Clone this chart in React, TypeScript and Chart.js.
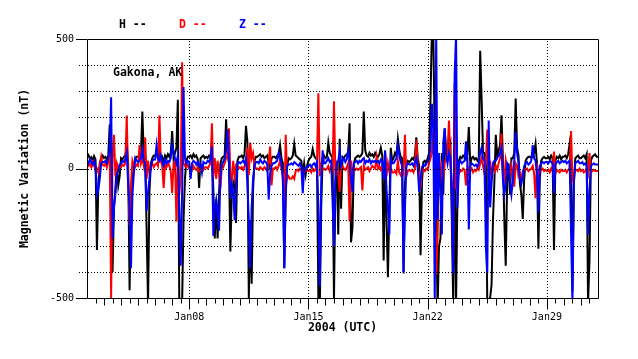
import React, { useEffect, useRef } from 'react';
import { Chart, registerables } from 'chart.js';

Chart.register(...registerables);

const FONT = '"DejaVu Sans Mono", "Liberation Mono", monospace';

// sampling: 12 samples per day (every 2 hours), starting 2004-01-02 00:00 UTC
const SAMPLES_PER_DAY = 12;
const DAYS = 30;

const tickDays = [6, 13, 20, 27];
const tickLabels = ['Jan08', 'Jan15', 'Jan22', 'Jan29'];
const yTickValues = [-500, 0, 500];
const yGridValues = [-400, -300, -200, -100, 0, 100, 200, 300, 400];

const seriesNames = ['H', 'D', 'Z'];
const seriesColors = ['#000000', '#ff0000', '#0000ff'];
const stationLabel = 'Gakona, AK';
const xTitle = '2004 (UTC)';
const yTitle = 'Magnetic Variation (nT)';

const hValues = [
  45, 52, 38, 44, 30, 48, 35, -315, -60, 20, 40, 50,
  40, 45, 35, 50, 170, -60, -400, -150, -80, 20, -65, -30,
  40, 35, 45, 50, 90, 20, -470, -150, -60, 10, 40, 45,
  45, 40, 60, 220, 50, 30, -230, -520, -90, 20, 40, 50,
  50, 55, 40, 65, 35, 45, 25, 50, 40, 55, 45, 60,
  145, 40, 60, 80, 265, -500, -540, -520, -200, -40, 30, 45,
  45, 50, 40, 55, 45, 50, 35, -75, 40, 45, 50, 40,
  45, 40, 50, 45, 60, -80, -270, -120, -270, -100, 20, 40,
  45, 50, 190, 60, 20, -320, -100, -60, -40, -210, 30, 45,
  45, 50, 40, 55, 165, 100, -500, -200, -445, -80, 30, 45,
  45, 50, 55, 45, 50, 40, 45, 50, 20, 0, 40, 45,
  45, 40, 50, 55, 90, 40, 20, -385, -100, 10, 40, 35,
  40, 50, 95, 50, 45, 40, 35, 30, -20, 20, -25, 10,
  30, 40, 45, 75, 50, 40, 35, -500, -540, -150, 40, 50,
  40, 45, 100, 60, 50, 40, -500, -60, 30, -255, 115, -155,
  45, 40, 50, 55, 60, 175, -285, -230, 20, 40, 45, 50,
  45, 50, 60, 220, 70, 50, 45, 60, 50, 55, 45, 60,
  50, 45, 55, 80, 50, -355, 60, -200, -420, -150, 80, 30,
  40, 60, 50, 115, 70, 45, 40, -400, -60, 20, 30, 25,
  30, 40, 35, 50, 120, 40, 10, -335, -50, 25, 30, 20,
  40, 60, 270, 540, 520, 100, -200, -540, -300, -270, 60, -100,
  155, 60, 40, 80, 100, -200, -520, 40, -520, -100, 30, 45,
  40, 50, 45, 35, 55, 160, 20, 40, 45, 35, 40, 30,
  40, 455, 270, 60, 60, 20, -520, -540, -500, -450, -200, -50,
  130, 50, 70, 90, 205, 40, -200, -375, -50, 20, -100, 40,
  40, 60, 270, 80, 50, -60, -100, -195, -40, 30, 40, 45,
  45, 40, 50, 60, 95, 20, -310, -40, 30, 40, 45, 40,
  40, 45, 35, 50, 40, -315, 30, 45, 40, 50, 35, 45,
  45, 50, 40, 55, 95, 30, -475, -60, 40, 45, 50, 40,
  40, 45, 50, 40, 55, -520, -355, 30, 45, 50, 55, 45,
  45,
];

const dValues = [
  15, 10, 20, 5, 25, 10, -5, 0, -15, 10, 45, 15,
  10, 20, 5, 30, 60, -500, 40, 130, -30, 20, 0, 10,
  5, 15, 10, 20, 205, -40, -220, -60, 30, 10, 5, 15,
  10, 90, 20, 40, 10, 120, -40, 30, -20, 10, 20, 5,
  15, 20, 10, 205, 30, 10, -75, 15, 5, 20, 10, -10,
  -95, 20, 30, -205, 40, -100, -30, 410, 20, 10, 5, 15,
  0, 5, -5, 10, 0, -5, 5, -10, 0, 10, -5, 5,
  5, 0, 10, 20, 175, -30, 40, -40, 30, -20, -75, 10,
  5, 20, 40, 50, 155, -20, -50, 30, -30, 10, 0, 5,
  0, 5, -5, 10, 20, 80, -25, 100, 40, 60, 10, 0,
  0, -5, 5, 0, -5, 5, 0, -10, 30, 85, -65, 0,
  0, 5, -5, 10, 30, 0, -20, -165, 130, -40, -30, -40,
  -40, -30, -40, -10, -5, -10, 0, -5, -10, -15, -10, -5,
  -10, -5, -15, 0, -10, -5, 20, 290, -30, 10, -5, 0,
  -5, 0, 10, -10, 5, -5, 260, -30, 10, -20, -90, 10,
  10, 0, -5, 5, 20, -205, 30, -20, 5, -5, 0, -5,
  0, 5, -85, 10, -5, 0, 5, -10, 0, 10, 5, 0,
  45, 0, 10, -5, 5, -20, 65, -30, 20, -10, 5, -15,
  -15, -10, -20, 30, -15, -25, -10, -20, 130, -30, -10, -5,
  -10, -5, -15, 0, 110, 10, -20, -75, 0, -5, -10, 0,
  -5, 20, 40, 60, 150, -100, -410, -270, 20, -60, 30, -40,
  20, 40, 60, 185, 30, -60, -355, 330, -80, 20, -20, -10,
  -10, 0, -5, -65, 10, -20, -10, 0, -15, -5, -10, 0,
  -5, 20, 40, 10, -20, 30, 150, -60, 30, -30, 10, -10,
  10, -5, 20, 40, 135, -20, -40, 30, -10, 0, -30, 10,
  -20, -70, 20, 10, -30, -20, -40, -10, 0, -5, 0, -10,
  -5, 0, 10, -20, -115, 20, -30, -10, -5, 0, -10, -5,
  -10, -5, -15, 0, -10, 65, -20, -5, -10, -15, -5, -10,
  -10, -5, -15, -5, 0, 145, -40, -20, -10, -5, -10, 0,
  -10, -5, -15, -10, 0, -20, 60, -15, -10, -5, -10, -10,
  -10,
];

const zValues = [
  30, 20, 35, 25, 15, 30, 10, -100, -80, -40, 20, 25,
  25, 30, 20, 40, 80, 275, -270, -150, -100, -20, -10, 15,
  20, 30, 25, 35, 60, -60, -150, -385, -100, -20, 40, 30,
  25, 30, 40, 75, 30, 20, -165, -90, -40, 10, 30, 35,
  35, 90, 40, 30, 50, 25, 10, 35, 20, 30, 25, 40,
  90, 60, 40, 20, 50, -150, -375, -100, 315, 40, 20, 30,
  25, -40, 20, 30, 25, 15, 25, 10, 20, -15, 25, 20,
  20, 30, 25, 40, 85, -260, -150, -120, -180, -240, -30, 15,
  25, 40, 70, 150, 40, -115, -60, -90, -200, -80, 20, 25,
  20, 25, 30, 20, 40, -60, -200, -385, -150, -40, 10, 25,
  25, 20, 35, 25, 20, 30, 25, 15, -120, -20, 10, 20,
  20, 25, 30, 60, 40, 20, -50, -385, -80, 10, 15, 15,
  20, 15, 25, 20, 15, 10, 20, 5, -95, 0, -5, 10,
  10, 15, 5, 15, 20, 10, 25, -150, -455, -50, 70, 20,
  20, 30, 40, 25, 30, -125, -300, -40, 20, 30, 65, 10,
  30, 40, 25, 35, 70, 30, -40, -90, 20, 25, 30, 20,
  30, 25, 35, 40, 20, 30, 25, 35, 20, 30, 25, 30,
  25, 30, 20, 35, 30, -40, 70, -80, -150, -255, 40, 20,
  20, 30, 40, 90, 50, 25, 10, -405, -155, 10, 20, 15,
  15, 20, 10, 25, 40, 0, -90, -40, 5, 15, 10, 20,
  25, 40, 80, 250, 150, -520, 540, -200, 60, -80, -255, 100,
  155, 50, 20, 60, 40, -100, -405, 360, 520, -150, 20, 30,
  20, 25, 30, 105, 40, -235, 10, 20, 15, 10, 15, 5,
  20, 60, 80, 40, 30, -300, -405, 185, -150, -60, 20, 30,
  30, 40, 50, 60, 80, -40, -100, -60, 20, 10, -50, -100,
  -50, 30, 140, 60, 20, -40, -60, -30, 10, 20, 25, 15,
  20, 30, 90, 40, 30, -20, -170, 10, 20, 25, 20, 25,
  25, 20, 30, 25, 20, -95, 15, 25, 30, 20, 25, 30,
  25, 30, 20, 25, 30, -245, -520, -50, 20, 25, 30, 20,
  20, 25, 15, 20, 10, -255, -80, 10, 15, 20, 15, 15,
  15,
];

const seriesValues = [hValues, dValues, zValues];

const toPoints = (vals: number[]) => vals.map((v, i) => ({ x: i / SAMPLES_PER_DAY, y: v }));

const decorPlugin = {
  id: 'decor',
  afterDatasetsDraw(chart: any) {
    const { ctx, chartArea: a, scales } = chart;
    const x = scales.x;
    const y = scales.y;
    ctx.save();
    ctx.strokeStyle = '#000000';
    ctx.lineWidth = 1;
    // dotted grid
    ctx.setLineDash([1, 2]);
    yGridValues.forEach((v) => {
      const py = Math.round(y.getPixelForValue(v)) + 0.5;
      ctx.beginPath();
      ctx.moveTo(a.left - 8, py);
      ctx.lineTo(a.right, py);
      ctx.stroke();
    });
    tickDays.forEach((d) => {
      const px = Math.round(x.getPixelForValue(d)) + 0.5;
      ctx.beginPath();
      ctx.moveTo(px, a.top + 2);
      ctx.lineTo(px, a.bottom);
      ctx.stroke();
    });
    ctx.setLineDash([]);
    // frame
    const l = Math.round(a.left) + 0.5;
    const t = Math.round(a.top) + 0.5;
    const r = Math.round(a.right) + 0.5;
    const b = Math.round(a.bottom) + 0.5;
    ctx.beginPath();
    ctx.moveTo(l, t);
    ctx.lineTo(r, t);
    ctx.lineTo(r, b);
    ctx.lineTo(l, b);
    ctx.closePath();
    ctx.stroke();
    // y major ticks
    yTickValues.forEach((v) => {
      const py = Math.round(y.getPixelForValue(v)) + 0.5;
      ctx.beginPath();
      ctx.moveTo(a.left - 11, py);
      ctx.lineTo(a.left, py);
      ctx.stroke();
    });
    // x ticks: every half day, longer each day, longest weekly
    for (let k = 1; k < DAYS * 2; k++) {
      const d = k / 2;
      const px = Math.round(x.getPixelForValue(d)) + 0.5;
      let len = k % 2 === 1 ? 5 : 7;
      if (tickDays.includes(d)) len = 11;
      ctx.beginPath();
      ctx.moveTo(px, b);
      ctx.lineTo(px, b + len);
      ctx.stroke();
    }
    // texts
    ctx.font = `bold 11.5px ${FONT}`;
    ctx.textBaseline = 'middle';
    ctx.textAlign = 'left';
    seriesNames.forEach((n, i) => {
      ctx.fillStyle = seriesColors[i];
      ctx.fillText(`${n} --`, 119 + i * 60, 25);
    });
    ctx.fillStyle = '#000000';
    ctx.textBaseline = 'alphabetic';
    ctx.fillText(stationLabel, a.left + 26, a.top + 37);
    ctx.textAlign = 'center';
    ctx.textBaseline = 'middle';
    ctx.fillText(xTitle, (a.left + a.right) / 2, 328);
    ctx.translate(25, (a.top + a.bottom) / 2);
    ctx.rotate(-Math.PI / 2);
    ctx.fillText(yTitle, 0, 0);
    ctx.restore();
  },
};

export default function App() {
  const ref = useRef<HTMLCanvasElement>(null);
  useEffect(() => {
    document.body.style.margin = '0';
    const canvas = ref.current;
    if (!canvas) return;
    const chart = new Chart(canvas, {
      type: 'line',
      data: {
        datasets: seriesNames.map((n, i) => ({
          label: n,
          data: toPoints(seriesValues[i]),
          borderColor: seriesColors[i],
          backgroundColor: seriesColors[i],
          borderWidth: 2,
          pointRadius: 0,
          tension: 0,
          fill: false,
          order: 3 - i,
        })),
      },
      options: {
        responsive: false,
        maintainAspectRatio: false,
        animation: false,
        events: [],
        layout: { padding: { left: 0, right: 40, top: 39, bottom: 0 } },
        plugins: {
          legend: { display: false },
          tooltip: { enabled: false },
          title: { display: false },
        },
        scales: {
          x: {
            type: 'linear',
            min: 0,
            max: DAYS,
            grid: { display: false, drawTicks: false },
            border: { display: false },
            afterFit: (s: any) => {
              s.height = 61;
            },
            afterBuildTicks: (s: any) => {
              s.ticks = tickDays.map((v) => ({ value: v }));
            },
            ticks: {
              autoSkip: false,
              maxRotation: 0,
              padding: 13,
              color: '#000000',
              font: { family: FONT, size: 10 },
              callback: (v: any) => {
                const idx = tickDays.indexOf(Number(v));
                return idx >= 0 ? tickLabels[idx] : '';
              },
            },
          },
          y: {
            type: 'linear',
            min: -500,
            max: 500,
            grid: { display: false, drawTicks: false },
            border: { display: false },
            afterFit: (s: any) => {
              s.width = 87;
            },
            afterBuildTicks: (s: any) => {
              s.ticks = yTickValues.map((v) => ({ value: v }));
            },
            ticks: {
              padding: 13,
              color: '#000000',
              font: { family: FONT, size: 10 },
              callback: (v: any) => String(v),
            },
          },
        },
      },
      plugins: [decorPlugin],
    } as any);
    return () => chart.destroy();
  }, []);
  return (
    <div style={{ width: 638, height: 359 }}>
      <canvas ref={ref} width={638} height={359} style={{ display: 'block', width: 638, height: 359 }} />
    </div>
  );
}
